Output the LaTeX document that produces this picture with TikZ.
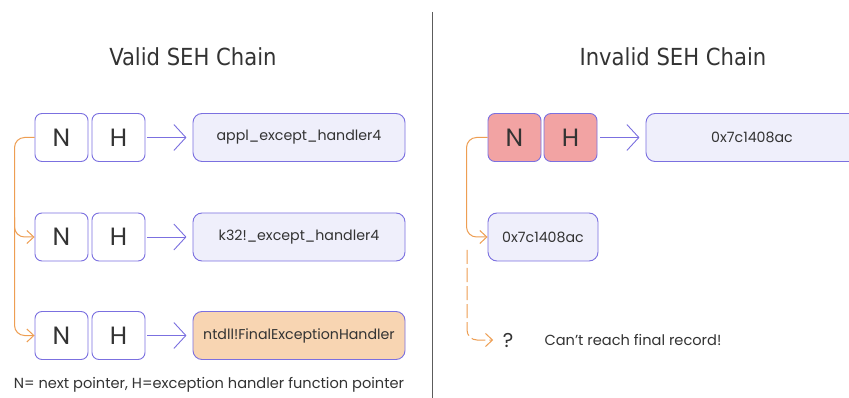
\documentclass[tikz,border=0pt]{standalone}
\usepackage{fontspec}
\setmainfont{Poppins}
\newfontfamily\titlefont{DejaVu Sans Condensed}
\usetikzlibrary{arrows.meta}
\definecolor{boxline}{HTML}{7B70E0}
\definecolor{boxfill}{HTML}{EFEFFB}
\definecolor{redfill}{HTML}{F2A3A3}
\definecolor{orangefill}{HTML}{F8D5B2}
\definecolor{orangeline}{HTML}{EE9E52}
\definecolor{txt}{HTML}{333333}
\begin{document}
\begin{tikzpicture}[x=1pt,y=-1pt,
  cell/.style={draw=boxline,fill=white,rounded corners=7pt,line width=0.9pt,minimum width=53pt,minimum height=48pt,inner sep=0pt,font=\fontsize{25}{25}\selectfont,text=txt},
  redcell/.style={cell,fill=redfill},
  handler/.style={draw=boxline,fill=boxfill,rounded corners=9pt,line width=0.9pt,minimum height=48pt,inner sep=0pt,font=\fontsize{14.2}{14.2}\selectfont,text=txt},
  ptr/.style={draw=boxline,line width=0.9pt,-{Straight Barb[length=12pt,width=26pt,line width=0.9pt]}},
  link/.style={draw=orangeline,line width=1pt,rounded corners=10pt,-{Straight Barb[length=7pt,width=13pt,line width=1pt]}},
  title/.style={font=\titlefont\fontsize{23.5}{23.5}\selectfont,text=txt},
  note/.style={font=\fontsize{14.6}{14.6}\selectfont,text=txt}]
\useasboundingbox[fill=white] (0,0) rectangle (849,398);
\clip (0,0) rectangle (849,398);
% titles and divider
\node[title] (t1) at (193,57) {Valid SEH Chain};
\node[title] (t2) at (673,57) {Invalid SEH Chain};
\coordinate (d1) at (432,12);
\coordinate (d2) at (432,398);
\draw[line width=1pt,color=txt!80] (d1) -- (d2);
% valid chain
\node[cell] (n1) at (61.5,137.5) {N};
\node[cell] (h1) at (118.5,137.5) {H};
\node[handler,minimum width=212pt] (a1) at (299,137.5) {appl\_except\_handler4};
\node[cell] (n2) at (61.5,237) {N};
\node[cell] (h2) at (118.5,237) {H};
\node[handler,minimum width=212pt] (a2) at (299,237) {k32!\_except\_handler4};
\node[cell] (n3) at (61.5,335.5) {N};
\node[cell] (h3) at (118.5,335.5) {H};
\node[handler,fill=orangefill,minimum width=212pt] (a3) at (299,335.5) {ntdll!FinalExceptionHandler};
\draw[ptr] (h1.east) ++(2,0) -- ++(39,0);
\draw[ptr] (h2.east) ++(2,0) -- ++(39,0);
\draw[ptr] (h3.east) ++(2,0) -- ++(39,0);
\draw[link] (n1.west) -- ++(-20,0) |- (n2.west);
\draw[link] (n1.west) ++(-20,80) |- (n3.west);
\node[note] (cap) at (209,385) {N= next pointer, H=exception handler function pointer};
% invalid chain
\node[redcell] (rn) at (514.5,137.5) {N};
\node[redcell] (rh) at (570.5,137.5) {H};
\node[handler,minimum width=212pt] (ra) at (752,137.5) {0x7c1408ac};
\node[handler,minimum width=110pt] (rb) at (543,237) {0x7c1408ac};
\draw[ptr] (rh.east) ++(3,0) -- ++(39,0);
\draw[link] (rn.west) -- ++(-21,0) |- (rb.west);
\coordinate (q0) at (467,250);
\node[note,font=\fontsize{20}{20}\selectfont] (q) at (508,340) {?};
\node[note,anchor=west] (msg) at (541,340) {Can’t reach final record!};
\draw[link,dash pattern=on 14pt off 4pt] (q0) |- ([xshift=-6pt]q.west);
\end{tikzpicture}
\end{document}
